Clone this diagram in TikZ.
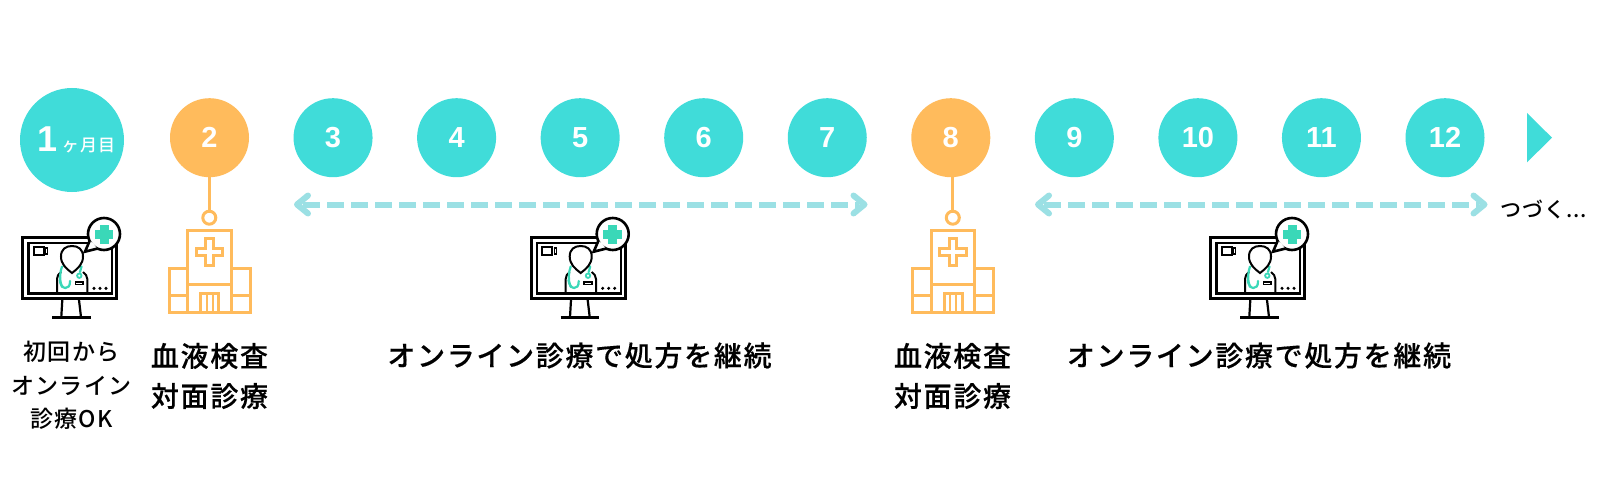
\documentclass[tikz,border=0pt]{standalone}
\usepackage{fontspec}
\setmainfont{Noto Sans CJK JP}
\newfontfamily\labfont[LetterSpace=6,FakeBold=0.3]{Noto Sans CJK JP Medium}
\newfontfamily\smlabfont[LetterSpace=5]{Noto Sans CJK JP Medium}
\newfontfamily\monthfont[LetterSpace=6]{Noto Sans CJK JP Medium}
\newfontfamily\numfont{Liberation Sans Bold}
\definecolor{tealc}{HTML}{40DCD9}
\definecolor{orangec}{HTML}{FFBB5C}
\definecolor{dashc}{HTML}{9BE0E4}
\definecolor{crossc}{HTML}{3AD8B8}
\tikzset{
  disc/.style={circle,inner sep=0pt,minimum size=79pt,text=white,font=\numfont\fontsize{29}{29}\selectfont},
  monthdisc/.style={disc,fill=tealc,minimum size=104pt},
  onl/.style={disc,fill=tealc},
  vis/.style={disc,fill=orangec},
  ringn/.style={circle,draw=orangec,line width=3pt,fill=white,inner sep=0pt,minimum size=13pt},
  stem/.style={draw=orangec,line width=3pt},
  span/.style={draw=dashc,line width=6pt,dash pattern=on 17pt off 7pt},
  chev/.style={draw=dashc,line width=6pt,line cap=round,line join=round},
  biglab/.style={align=center,inner sep=0pt,font=\labfont\fontsize{28}{40}\selectfont},
  smlab/.style={align=center,inner sep=0pt,font=\smlabfont\fontsize{23}{33.5}\selectfont},
  doctor/.pic={
    \begin{scope}[line cap=butt]
    % monitor
    \draw[black,line width=2.8pt] (22.8,237.2) rectangle (116.8,298.2);
    \draw[black,line width=2.2pt] (28.5,243) rectangle (112,293.5);
    \draw[black,line width=2.2pt] (62.3,300) -- (61.3,317) (79,300) -- (81,317);
    \draw[black,line width=2.4pt] (52,317.5) -- (90.7,317.5);
    % bubble
    \draw[black,fill=white,line width=2.6pt] (104,234) circle[radius=16];
    \fill[white] (97.3,248.6) -- (85,251.7) -- (89.6,241) -- (93,243) -- cycle;
    \draw[black,line width=2.6pt,line join=miter] (97.3,248.6) -- (85,251.7) -- (89.6,241);
    \fill[crossc] (99.5,224.5) rectangle (108.5,243.5);
    \fill[crossc] (94.7,229.5) rectangle (113.3,238.5);
    % camera
    \draw[black,line width=2pt] (33.5,247) rectangle (43.5,254.5);
    \fill[black] (45,246.5) rectangle (48,255);
    \fill[white] (46,248.5) rectangle (47,253);
    % body
    \draw[black,line width=2pt] (57,293) -- (57,279) .. controls (57,276) and (58.5,274) .. (61,272);
    \draw[black,line width=2pt] (87.3,293) -- (87.3,279) .. controls (87.3,276) and (85.5,274) .. (83,272);
    % stethoscope
    \draw[crossc,line width=2.2pt,line cap=round] (62,266.5) .. controls (60,272) and (59,280) .. (62,287);
    \draw[crossc,line width=2.2pt,line cap=round] (59.8,280) .. controls (60.5,290) and (70.5,291) .. (70,281);
    \draw[crossc,line width=2.2pt,line cap=round] (81.5,266.5) -- (80,272);
    \draw[crossc,line width=1.8pt] (79.3,275.7) circle[radius=2.2];
    % head
    \draw[black,fill=white,line width=2pt] (72,273) .. controls (66,268.5) and (61,264) .. (61,256.5)
      .. controls (61,249) and (66,246) .. (72,246) .. controls (78,246) and (83,249) .. (83,256.5)
      .. controls (83,264) and (78,268.5) .. (72,273) -- cycle;
    % pocket
    \draw[black,line width=1.6pt] (75.5,281.7) rectangle (83,284.6);
    % dots
    \fill[black] (94,288.3) circle[radius=1.7] (100,288.3) circle[radius=1.7] (106,288.3) circle[radius=1.7];
    \end{scope}
  },
  hospital/.pic={
    \begin{scope}[draw=orangec,line width=3pt,line cap=butt,line join=miter]
    \draw (187.7,230.7) rectangle (231,312.5);
    \draw (169,268.7) rectangle (187.7,312.5);
    \draw (231,268.7) rectangle (250,312.5);
    \draw (169,295) -- (187.7,295) (231,295) -- (250,295);
    \draw (187.7,284.5) -- (231,284.5);
    \draw (200.5,312.5) -- (200.5,293.5) -- (218.5,293.5) -- (218.5,312.5);
    \draw[line width=2.2pt] (206.7,294) -- (206.7,312.5) (212.8,294) -- (212.8,312.5);
    \draw (205.5,238.5) -- (213,238.5) -- (213,248) -- (222.5,248) -- (222.5,255.5) -- (213,255.5) -- (213,265) -- (205.5,265) -- (205.5,255.5) -- (196,255.5) -- (196,248) -- (205.5,248) -- cycle;
    \end{scope}
  }
}
\begin{document}
\begin{tikzpicture}[x=1pt,y=-1pt]
\useasboundingbox (0,0) rectangle (1600,500);
\fill[white] (0,0) rectangle (1600,500);
% month discs
\node[monthdisc] (c1) at (72,140) {\hspace*{9pt}{\fontsize{36}{36}\selectfont 1}\hspace{4pt}{\monthfont\fontsize{17}{18}\selectfont ヶ月目}};
\node[vis] (c2) at (209.5,137.7) {2};
\node[onl] (c3) at (333.05,137.7) {3};
\node[onl] (c4) at (456.6,137.7) {4};
\node[onl] (c5) at (580.15,137.7) {5};
\node[onl] (c6) at (703.7,137.7) {6};
\node[onl] (c7) at (827.25,137.7) {7};
\node[vis] (c8) at (950.8,137.7) {8};
\node[onl] (c9) at (1074.35,137.7) {9};
\node[onl] (c10) at (1197.9,137.7) {10};
\node[onl] (c11) at (1321.45,137.7) {11};
\node[onl] (c12) at (1445,137.7) {12};
\fill[tealc] (1527,113) -- (1552,137.7) -- (1527,162.3) -- cycle;
% stems
\node[ringn] (r2) at (209.3,217.7) {};
\node[ringn] (r8) at (952.8,217.7) {};
\draw[stem] (r2.north) -- (r2.north |- c2.south);
\draw[stem] (r8.north) -- (r8.north |- c8.south);
% spans
\coordinate (s1) at (297,204.5);
\coordinate (e1) at (864.5,204.5);
\coordinate (s2) at (1038,204.5);
\coordinate (e2) at (1484.5,204.5);
\draw[span] ([xshift=6pt]s1) -- ([xshift=-6pt]e1);
\draw[span] ([xshift=6pt]s2) -- ([xshift=-6pt]e2);
\draw[chev] ([shift={(11,-9)}]s1) -- (s1) -- ([shift={(11,9)}]s1);
\draw[chev] ([shift={(-11,-9)}]e1) -- (e1) -- ([shift={(-11,9)}]e1);
\draw[chev] ([shift={(11,-9)}]s2) -- (s2) -- ([shift={(11,9)}]s2);
\draw[chev] ([shift={(-11,-9)}]e2) -- (e2) -- ([shift={(-11,9)}]e2);
\node[anchor=west,inner sep=0pt,font=\smlabfont\fontsize{21}{21}\selectfont] (more) at (1500,209) {つづく...};
% icons
\pic at (0,0) {doctor};
\pic at (508.7,0) {doctor};
\pic at (1188,0) {doctor};
\pic at (0,0) {hospital};
\pic at (743.5,0) {hospital};
% labels
\node[smlab] (l1) at (71.5,385.5) {初回から\\オンライン\\診療OK};
\node[biglab] (l2) at (209.5,376) {血液検査\\対面診療};
\node[biglab] (l3) at (579.5,355.5) {オンライン診療で処方を継続};
\node[biglab] (l4) at (952.5,376) {血液検査\\対面診療};
\node[biglab] (l5) at (1259,355.5) {オンライン診療で処方を継続};
\end{tikzpicture}
\end{document}
